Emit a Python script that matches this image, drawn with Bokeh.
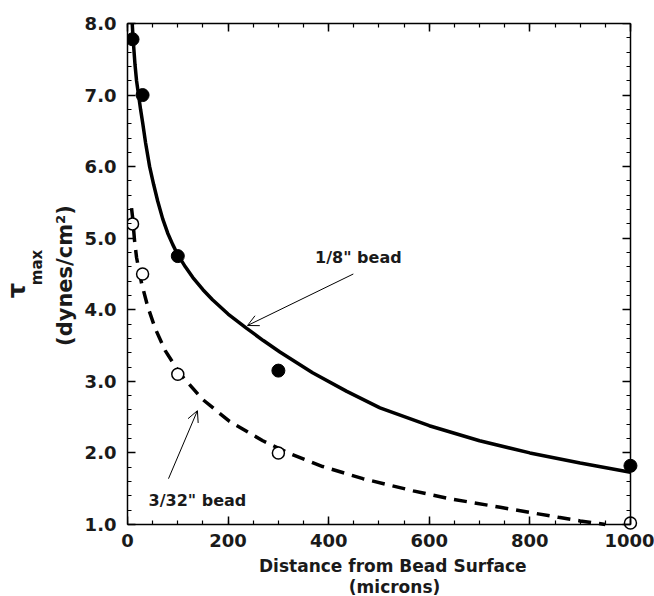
import math
from bokeh.plotting import figure
from bokeh.layouts import row, column
from bokeh.models import (Range1d, LinearAxis, FixedTicker, Label, Arrow, OpenHead,
                          CustomJSTickFormatter, PrintfTickFormatter)
from bokeh.core.properties import value
from bokeh.embed import file_html
from bokeh.resources import INLINE

# measured points (distance in microns, tau_max in dynes/cm^2)
distance = [10, 30, 100, 300, 1000]
tau_eighth = [7.78, 7.00, 4.75, 3.15, 1.82]      # 1/8" bead (filled)
tau_3_32 = [5.20, 4.50, 3.10, 2.00, 1.02]        # 3/32" bead (open)

# fitted curves
fit_eighth_x = [9, 11, 15, 18, 22, 26, 30, 36, 44, 52, 60, 70, 80, 90, 100, 115, 130,
                150, 169, 200, 237, 270, 303, 368, 436, 502, 600, 700, 800, 900, 1000]
fit_eighth_y = [8.05, 7.80, 7.42, 7.20, 7.00, 6.80, 6.62, 6.33, 6.00, 5.75, 5.52, 5.27,
                5.07, 4.91, 4.77, 4.60, 4.45, 4.28, 4.14, 3.94, 3.74, 3.57, 3.41, 3.12,
                2.86, 2.63, 2.38, 2.17, 2.00, 1.86, 1.73]
fit_3_32_x = [8, 10, 14, 18, 28, 40, 55, 75, 104, 149, 203, 269, 323, 388, 468, 568,
              641, 741, 807, 857, 900, 950]
fit_3_32_y = [5.42, 5.30, 4.97, 4.73, 4.37, 4.05, 3.74, 3.43, 3.11, 2.75, 2.44, 2.17,
              1.99, 1.81, 1.64, 1.47, 1.36, 1.24, 1.16, 1.10, 1.05, 1.00]

x_ticks = [0, 200, 400, 600, 800, 1000]
x_minor = [v for v in range(0, 1001, 50)]
y_ticks = [1, 2, 3, 4, 5, 6, 7, 8]
y_minor = [round(1 + 0.2 * i, 1) for i in range(36)]
X_LIM = (0, 1000)
Y_LIM = (1, 8)

FONT = "DejaVu Sans"
TXT = "#1a1a1a"

LEFT_W = 80
MAIN_W = 654 - LEFT_W
MAIN_H = 554
BOT_H = 596 - MAIN_H

# the frame reaches a few pixels past x=1000 and below y=1.0 so that the
# edge markers are not cut; the axes sit at the data limits.
p = figure(width=MAIN_W, height=MAIN_H, output_backend="svg", toolbar_location=None,
           x_range=Range1d(X_LIM[0], 1016), y_range=Range1d(0.888, Y_LIM[1]),
           x_axis_location=None, y_axis_location=None,
           min_border_left=127 - LEFT_W, min_border_right=16, min_border_top=23,
           min_border_bottom=MAIN_H - 532)
p.grid.visible = False
p.outline_line_color = None
p.background_fill_color = "white"
p.border_fill_color = "white"


def style_axis(ax, labels=True):
    ax.axis_line_color = "black"
    ax.axis_line_width = 1.5
    ax.major_tick_in = 8
    ax.major_tick_out = 0
    ax.minor_tick_in = 4
    ax.minor_tick_out = 0
    ax.major_tick_line_width = 1.5
    ax.minor_tick_line_width = 1.2
    ax.major_label_text_font = FONT
    ax.major_label_text_font_style = "bold"
    ax.major_label_text_font_size = "18px"
    ax.major_label_text_color = TXT
    if not labels:
        ax.formatter = CustomJSTickFormatter(code="return ''")
        ax.major_label_text_color = None
        ax.major_label_standoff = 0


xt = FixedTicker(ticks=x_ticks, minor_ticks=x_minor)
yt = FixedTicker(ticks=y_ticks, minor_ticks=y_minor)

# bottom: line + ticks fixed at y=1.0
bottom = LinearAxis(ticker=xt, fixed_location=Y_LIM[0], bounds=X_LIM)
style_axis(bottom, labels=False)
p.add_layout(bottom, "below")

# bottom tick labels
bottom_lab = LinearAxis(ticker=FixedTicker(ticks=x_ticks), bounds=X_LIM)
style_axis(bottom_lab)
bottom_lab.axis_line_color = None
bottom_lab.major_tick_in = 0
bottom_lab.minor_tick_in = 0
bottom_lab.major_label_standoff = 1
p.add_layout(bottom_lab, "below")

top = LinearAxis(ticker=xt, bounds=X_LIM)
style_axis(top, labels=False)
p.add_layout(top, "above")

left = LinearAxis(ticker=yt, formatter=PrintfTickFormatter(format="%.1f"), bounds=Y_LIM)
style_axis(left)
left.major_label_standoff = 11
p.add_layout(left, "left")

right = LinearAxis(ticker=yt, fixed_location=X_LIM[1], bounds=Y_LIM)
style_axis(right, labels=False)
p.add_layout(right, "right")

# curves
p.line(fit_eighth_x, fit_eighth_y, line_color="black", line_width=3.5)
p.line(fit_3_32_x, fit_3_32_y, line_color="black", line_width=3.5, line_dash="13 8")

# points
p.scatter(distance, tau_eighth, size=13, fill_color="black", line_color="black")
p.scatter(distance, tau_3_32, size=12, fill_color="white", line_color="black", line_width=1.5)

# annotations
p.add_layout(Label(x=459, y=4.73, text='1/8" bead', text_font=FONT, text_font_style="bold",
                   text_font_size="16px", text_align="center", text_baseline="middle",
                   text_color=TXT))
p.add_layout(Label(x=139, y=1.34, text='3/32" bead', text_font=FONT, text_font_style="bold",
                   text_font_size="16px", text_align="center", text_baseline="middle",
                   text_color=TXT))
p.add_layout(Arrow(x_start=449, y_start=4.50, x_end=238.6, y_end=3.78, line_width=1,
                   end=OpenHead(size=11, line_width=1)))
p.add_layout(Arrow(x_start=81.5, y_start=1.64, x_end=139, y_end=2.59, line_width=1,
                   end=OpenHead(size=11, line_width=1)))


def strip(w, h, xr, yr):
    f = figure(width=w, height=h, output_backend="svg", toolbar_location=None,
               x_range=Range1d(*xr), y_range=Range1d(*yr),
               x_axis_location=None, y_axis_location=None,
               min_border_left=0, min_border_right=0, min_border_top=0, min_border_bottom=0)
    f.grid.visible = False
    f.outline_line_color = None
    f.background_fill_color = "white"
    f.border_fill_color = "white"
    return f


# y-axis title strip (page pixel coordinates)
ls = strip(LEFT_W, 596, (0, LEFT_W), (596, 0))
ls.text(x=[16], y=[290], text=["τ"], angle=math.pi / 2, text_font=value(FONT),
        text_font_style="bold", text_font_size="24px", text_align="center",
        text_baseline="middle", text_color=TXT)
ls.text(x=[36], y=[267], text=["max"], angle=math.pi / 2, text_font=value(FONT),
        text_font_style="bold", text_font_size="15px", text_align="center",
        text_baseline="middle", text_color=TXT)
ls.text(x=[64], y=[275], text=["(dynes/cm²)"], angle=math.pi / 2, text_font=value(FONT),
        text_font_style="bold", text_font_size="21px", text_align="center",
        text_baseline="middle", text_color=TXT)

# x-axis title strip
bs = strip(MAIN_W, BOT_H, (LEFT_W, 654), (596, MAIN_H))
bs.text(x=[378], y=[565], text=["Distance from Bead Surface"], text_font=value(FONT),
        text_font_style="bold", text_font_size="17px", text_align="center",
        text_baseline="middle", text_color=TXT)
bs.text(x=[380], y=[586], text=["(microns)"], text_font=value(FONT),
        text_font_style="bold", text_font_size="17px", text_align="center",
        text_baseline="middle", text_color=TXT)

layout = row(ls, column(p, bs, spacing=0), spacing=0)
open("out.html", "w").write(file_html(layout, INLINE))
